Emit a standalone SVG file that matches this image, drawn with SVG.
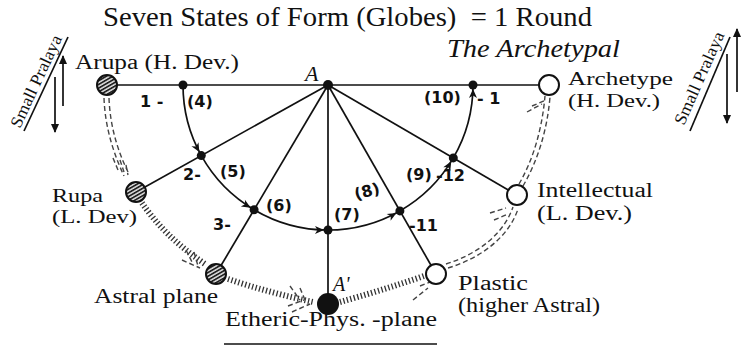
<svg xmlns="http://www.w3.org/2000/svg" width="742" height="348" viewBox="0 0 742 348">
<defs>
<style>
.t{font-family:"Liberation Serif","Times New Roman",serif;fill:#111}
.lb{font-size:20px}
.lb2{font-size:19px}
.hw{font-family:"DejaVu Sans","Liberation Sans",sans-serif;font-size:16px;font-weight:bold;fill:#111}
.ln{stroke:#111;stroke-width:1.7;fill:none}
.arc{stroke:#111;stroke-width:1.7;fill:none;marker-end:url(#ah)}
.hatch{stroke:#333;fill:none;stroke-width:6;stroke-dasharray:1.3 2.3}
.dash{stroke:#444;fill:none;stroke-width:1.4;stroke-dasharray:5 3}
.dot{fill:#111}
.gl{stroke:#111;stroke-width:2;fill:url(#hp)}
.go{stroke:#111;stroke-width:2;fill:#fff}
</style>
<pattern id="hp" patternUnits="userSpaceOnUse" width="3.2" height="3.2" patternTransform="rotate(60)">
<rect width="3.2" height="3.2" fill="#ddd"/><rect width="1.7" height="3.2" fill="#222"/>
</pattern>
<marker id="ah" markerUnits="userSpaceOnUse" markerWidth="12" markerHeight="10" refX="13" refY="4" orient="auto" overflow="visible">
<path d="M0,0 L9,4 L0,8 L2.5,4 z" fill="#111"/>
</marker>
<marker id="pa" markerUnits="userSpaceOnUse" markerWidth="10" markerHeight="10" refX="8" refY="4" orient="auto">
<path d="M0,0 L9,4 L0,8 z" fill="#111"/>
</marker>
</defs>

<rect width="742" height="348" fill="#fff"/>

<text class="t" x="103" y="26" font-size="28" textLength="489" lengthAdjust="spacingAndGlyphs" xml:space="preserve">Seven States of Form (Globes)  = 1 Round</text>
<text class="t" x="447" y="57" font-size="25" font-style="italic" textLength="173" lengthAdjust="spacingAndGlyphs">The Archetypal</text>

<g id="pralaya-left">
<line class="ln" x1="24" y1="131" x2="68" y2="37" stroke-width="1.2"/>
<text class="t" font-size="17" transform="translate(20,129) rotate(-65)" textLength="100" lengthAdjust="spacingAndGlyphs">Small Pralaya</text>
<line class="ln" x1="63" y1="106" x2="63" y2="56" stroke-width="2" marker-end="url(#pa)"/>
<line class="ln" x1="55" y1="77" x2="55" y2="132" stroke-width="2" marker-end="url(#pa)"/>
</g>
<g id="pralaya-right">
<line class="ln" x1="690" y1="131" x2="730" y2="37" stroke-width="1.2"/>
<text class="t" font-size="17" transform="translate(684,126) rotate(-66)" textLength="100" lengthAdjust="spacingAndGlyphs">Small Pralaya</text>
<line class="ln" x1="737" y1="92" x2="737" y2="29" stroke-width="2" marker-end="url(#pa)"/>
<line class="ln" x1="727" y1="54" x2="727" y2="123" stroke-width="2" marker-end="url(#pa)"/>
</g>

<g id="connectors">
<line class="ln" x1="108" y1="85" x2="549" y2="85"/>
<line class="ln" x1="328" y1="85" x2="136" y2="192"/>
<line class="ln" x1="328" y1="85" x2="216" y2="274"/>
<line class="ln" x1="328" y1="85" x2="328" y2="304"/>
<line class="ln" x1="328" y1="85" x2="436" y2="274"/>
<line class="ln" x1="328" y1="85" x2="517" y2="195"/>
<path class="arc" d="M183,85 A145,145 0 0 0 201.3,155.6"/>
<path class="arc" d="M201.3,155.6 A145,145 0 0 0 254.1,209.7"/>
<path class="arc" d="M254.1,209.7 A145,145 0 0 0 328,230"/>
<path class="arc" d="M328,230 A145,145 0 0 0 399.9,210.9"/>
<path class="arc" d="M399.9,210.9 A145,145 0 0 0 453.3,157.9"/>
<path class="arc" d="M453.3,157.9 A145,145 0 0 0 473,85"/>
<path class="dash" d="M104,98 C105,125 112,150 124,176" stroke-width="1.6" stroke-dasharray="4 2.5"/>
<path class="dash" d="M109,98 C110,125 117,150 129,174" stroke-width="1.6" stroke-dasharray="3 3"/>
<path class="dash" d="M113,158 L118,170 M120,160 L124,172 M126,165 L128,175" stroke-dasharray="3 2"/>
<path class="hatch" d="M142,203 C157,225 177,245 205,264" stroke-width="5"/>
<path class="dash" d="M186,250 L192,262 M194,252 L198,266 M182,260 L200,268" stroke-dasharray="3 2"/>
<path class="hatch" d="M228,279 C255,288 285,296 313,302"/>
<path class="dash" d="M290,286 L300,300 M300,288 L305,300 M292,312 L310,304 M288,306 L304,300" stroke-dasharray="3 2"/>
<path class="hatch" d="M340,302 C365,295 395,286 424,276" stroke-width="5" stroke-dasharray="1.2 3"/>
<path class="dash" d="M413,300 L428,288 M420,286 L430,282" stroke-dasharray="3 2"/>
<path class="dash" d="M446,264 C475,255 503,236 513,207"/>
<path class="dash" d="M448,268 C478,259 508,239 518,209"/>
<path class="dash" d="M490,213 L506,208 M494,220 L508,214" stroke-dasharray="4 2"/>
<path class="dash" d="M519,184 C533,160 542,130 545,96"/>
<path class="dash" d="M523,186 C537,162 547,132 550,97"/>
<path class="dash" d="M527,112 L542,104 M532,106 L546,100" stroke-dasharray="4 2"/>
</g>

<g id="node-A"><circle class="dot" cx="328" cy="85" r="5"/><text class="t" x="305" y="81" font-size="22" font-style="italic">A</text></g>
<g id="node-4"><circle class="dot" cx="183" cy="85" r="4.5"/><text class="hw" x="140" y="107">1 -</text><text class="hw" x="187" y="107">(4)</text></g>
<g id="node-2"><circle class="dot" cx="201.3" cy="155.6" r="4.5"/><text class="hw" x="183" y="180">2-</text><text class="hw" x="220" y="177">(5)</text></g>
<g id="node-3"><circle class="dot" cx="254.1" cy="209.7" r="4.5"/><text class="hw" x="213" y="230">3-</text><text class="hw" x="266" y="211">(6)</text></g>
<g id="node-7"><circle class="dot" cx="328" cy="230" r="4.5"/><text class="hw" x="334" y="220">(7)</text></g>
<g id="node-8"><circle class="dot" cx="399.9" cy="210.9" r="4.5"/><text class="hw" transform="translate(356,200) rotate(-15)">(8)</text><text class="hw" x="409" y="231">-11</text></g>
<g id="node-9"><circle class="dot" cx="453.3" cy="157.9" r="4.5"/><text class="hw" x="406" y="180">(9)</text><text class="hw" x="436" y="181">-12</text></g>
<g id="node-10"><circle class="dot" cx="473" cy="85" r="4.5"/><text class="hw" x="424" y="103">(10)</text><text class="hw" x="477" y="104">- 1</text></g>

<g id="globe-arupa"><circle class="gl" cx="107" cy="85" r="10"/><text class="t lb" x="75" y="69" textLength="164" lengthAdjust="spacingAndGlyphs">Arupa (H. Dev.)</text></g>
<g id="globe-rupa"><circle class="gl" cx="136" cy="192" r="10"/><text class="t lb2" x="52" y="202" textLength="51" lengthAdjust="spacingAndGlyphs">Rupa</text><text class="t lb2" x="52" y="223" textLength="85" lengthAdjust="spacingAndGlyphs">(L. Dev)</text></g>
<g id="globe-astral"><circle class="gl" cx="216" cy="274" r="10"/><text class="t lb" x="94" y="303" textLength="124" lengthAdjust="spacingAndGlyphs">Astral plane</text></g>
<g id="globe-etheric"><circle class="dot" cx="328" cy="304" r="11"/><text class="t" x="333" y="291" font-size="20" font-style="italic">A'</text><text class="t lb" x="225" y="326" textLength="212" lengthAdjust="spacingAndGlyphs">Etheric-Phys. -plane</text><line x1="224" y1="344" x2="437" y2="344" stroke="#111" stroke-width="1.5"/></g>
<g id="globe-plastic"><circle class="go" cx="436" cy="274" r="10"/><text class="t lb" x="458" y="290" textLength="70" lengthAdjust="spacingAndGlyphs">Plastic</text><text class="t lb" x="458" y="312" textLength="142" lengthAdjust="spacingAndGlyphs">(higher Astral)</text></g>
<g id="globe-intellectual"><circle class="go" cx="517" cy="195" r="10"/><text class="t lb" x="537" y="197" textLength="116" lengthAdjust="spacingAndGlyphs">Intellectual</text><text class="t lb" x="537" y="220" textLength="95" lengthAdjust="spacingAndGlyphs">(L. Dev.)</text></g>
<g id="globe-archetype"><circle class="go" cx="549" cy="85" r="10"/><text class="t lb2" x="568" y="85" textLength="105" lengthAdjust="spacingAndGlyphs">Archetype</text><text class="t lb2" x="568" y="107" textLength="92" lengthAdjust="spacingAndGlyphs">(H. Dev.)</text></g>
</svg>
